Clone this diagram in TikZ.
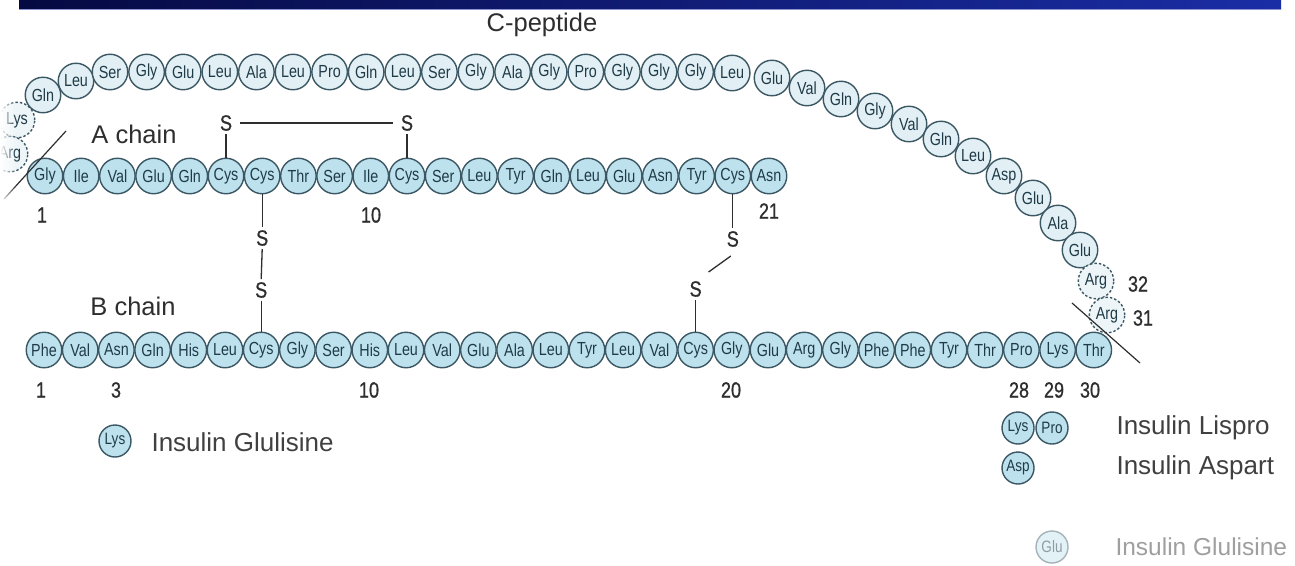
\documentclass[tikz,border=0pt]{standalone}
\usepackage{fontspec}
\setmainfont{Liberation Sans}
\newfontfamily\resfont[FakeStretch=0.82]{Liberation Sans}
\newfontfamily\numfont[FakeStretch=0.82,FakeBold=0.8]{Liberation Sans}
\usetikzlibrary{calc,fadings}

\definecolor{ringline}{HTML}{3A5763}
\definecolor{chainfill}{HTML}{BEE1EE}
\definecolor{pepfill}{HTML}{E2EFF4}
\definecolor{reslabel}{HTML}{1F3B48}
\definecolor{inkgray}{HTML}{2E2E2E}
\definecolor{keygray}{HTML}{404040}
\definecolor{barleft}{HTML}{060A42}
\definecolor{barright}{HTML}{1A2DA5}

\tikzfading[name=fadeedge, left color=transparent!0, right color=transparent!100]

\tikzset{
  res/.style={circle, draw=ringline, line width=1.4pt, minimum size=35.5pt,
    inner sep=0pt, text=reslabel, font=\resfont\fontsize{17.5}{17.5}\selectfont},
  chainres/.style={res, fill=chainfill},
  pepres/.style={res, fill=pepfill},
  cutres/.style={res, fill=pepfill!60!white, dash pattern=on 2.5pt off 2pt},
  keyres/.style={res, fill=chainfill, minimum size=32pt,
    font=\resfont\fontsize{16.5}{16.5}\selectfont},
  sulfur/.style={inner sep=3pt, text=inkgray, font=\numfont\fontsize{22}{22}\selectfont},
  seqnum/.style={text=inkgray, font=\numfont\fontsize{22}{22}\selectfont},
  caption/.style={text=inkgray, font=\fontsize{25.5}{26}\selectfont},
  keytext/.style={anchor=west, text=keygray, font=\fontsize{26}{26}\selectfont},
  bond/.style={draw=inkgray, line width=1.3pt},
  cutmark/.style={draw=inkgray, line width=1.2pt},
}

\begin{document}
\begin{tikzpicture}[x=1pt, y=-1pt]
\useasboundingbox (0,0) rectangle (1295,565);
\fill[white] (0,0) rectangle (1295,565);

% title bar
\shade[left color=barleft, right color=barright] (19,0) rectangle (1281,9.5);
\draw[barright!50!white, line width=0.8pt] (19,9.8) -- (1281,9.8);

% C-peptide: left turn, straight run, right-hand arc
\node[cutres] (lys0) at (17,120) {Lys};
\node[cutres] (arg0) at (10,154) {Arg};
\foreach \r/\px/\py [count=\i] in {
  Gln/43/95, Leu/76/81, Ser/110/72,
  Gly/146.6/72, Glu/183.2/72, Leu/219.8/72, Ala/256.4/72, Leu/293/72,
  Pro/329.6/72, Gln/366.2/72, Leu/402.8/72, Ser/439.4/72, Gly/476/72,
  Ala/512.6/72, Gly/549.2/72, Pro/585.8/72, Gly/622.4/72, Gly/659/72,
  Gly/695.6/72, Leu/732.2/73,
  Glu/772/78, Val/807/88, Gln/841/99, Gly/875/111, Val/909/124,
  Gln/941/139, Leu/973/156, Asp/1004/176, Glu/1033/198, Ala/1058/223,
  Glu/1080/250}
  \node[pepres] (c\i) at (\px,\py) {\r};
\node[cutres] (arg32) at (1096,281) {Arg};
\node[cutres] (arg31) at (1107,315) {Arg};

% A chain
\foreach \r [count=\i] in {Gly,Ile,Val,Glu,Gln,Cys,Cys,Thr,Ser,Ile,Cys,
  Ser,Leu,Tyr,Gln,Leu,Glu,Asn,Tyr,Cys,Asn}
  \node[chainres] (a\i) at ({45+(\i-1)*36.2},176) {\r};

% B chain
\foreach \r [count=\i] in {Phe,Val,Asn,Gln,His,Leu,Cys,Gly,Ser,His,Leu,
  Val,Glu,Ala,Leu,Tyr,Leu,Val,Cys,Gly,Glu,Arg,Gly,Phe,Phe,Tyr,Thr,Pro,Lys,Thr}
  \node[chainres] (b\i) at ({44+(\i-1)*36.2},350) {\r};

% cleavage marks
\coordinate (cutLa) at (66,131);
\coordinate (cutLb) at (4,199);
\coordinate (cutRa) at (1072,303);
\coordinate (cutRb) at (1140,363);
\draw[cutmark] (cutLa) -- (cutLb);
\draw[cutmark] (cutRa) -- (cutRb);

% disulfide bridges
\node[sulfur] (s6)  at ($(a6)+(0,-53)$) {S};
\node[sulfur] (s11) at ($(a11)+(0,-53)$) {S};
\draw[bond] (a6.north) -- (s6.south);
\draw[bond] (a11.north) -- (s11.south);
\draw[bond, shorten <=5pt, shorten >=5pt] (s6.east) -- (s11.west);

\node[sulfur] (s7a) at ($(a7)+(0,62)$) {S};
\node[sulfur] (s7b) at ($(b7)+(0,-60)$) {S};
\draw[bond] (a7.south) -- (s7a.north);
\draw[bond] (s7a.south) -- (s7b.north);
\draw[bond] (s7b.south) -- (b7.north);

\node[sulfur] (s20a) at ($(a20)+(0,63)$) {S};
\node[sulfur] (s19b) at ($(b19)+(0,-61)$) {S};
\draw[bond] (a20.south) -- (s20a.north);
\draw[bond] ($(s20a)+(-2,17)$) -- ($(s19b)+(13,-17)$);
\draw[bond] (s19b.south) -- (b19.north);

% soft left edge
\fill[white, path fading=fadeedge] (0,40) rectangle (16,225);

% captions
\node[caption, anchor=base] (cpep) at (542,31) {C-peptide};
\node[caption, anchor=base] (achain) at (134,143) {A chain};
\node[caption, anchor=base] (bchain) at (133,315) {B chain};

% residue numbers
\node[seqnum] (na1)  at (42,215) {1};
\node[seqnum] (na10) at (371,215) {10};
\node[seqnum] (na21) at (769,211) {21};
\node[seqnum] (nb1)  at (41,390) {1};
\node[seqnum] (nb3)  at (116,390) {3};
\node[seqnum] (nb10) at (369,390) {10};
\node[seqnum] (nb20) at (731,390) {20};
\node[seqnum] (nb28) at (1019,390) {28};
\node[seqnum] (nb29) at (1054,390) {29};
\node[seqnum] (nb30) at (1090,390) {30};
\node[seqnum] (n32)  at (1138,284) {32};
\node[seqnum] (n31)  at (1143,318) {31};

% key to the analogues
\node[keyres] (kLys) at (115,441) {Lys};
\node[keytext] (tGlu1) at (148,442) {Insulin Glulisine};
\node[keyres] (kLys2) at (1018,428) {Lys};
\node[keyres] (kPro) at (1052,428) {Pro};
\node[keytext] (tLis) at (1113,428) {Insulin Lispro};
\node[keyres] (kAsp) at (1018,468) {Asp};
\node[keytext] (tAsp) at (1113,468) {Insulin Aspart};
\node[keyres, draw=ringline!45, fill=chainfill!45, text=reslabel!50] (kGlu) at (1052,547) {Glu};
\node[keytext, text=keygray!50, font=\fontsize{24.5}{25}\selectfont] (tGlu2) at (1112,547) {Insulin Glulisine};
\end{tikzpicture}
\end{document}
